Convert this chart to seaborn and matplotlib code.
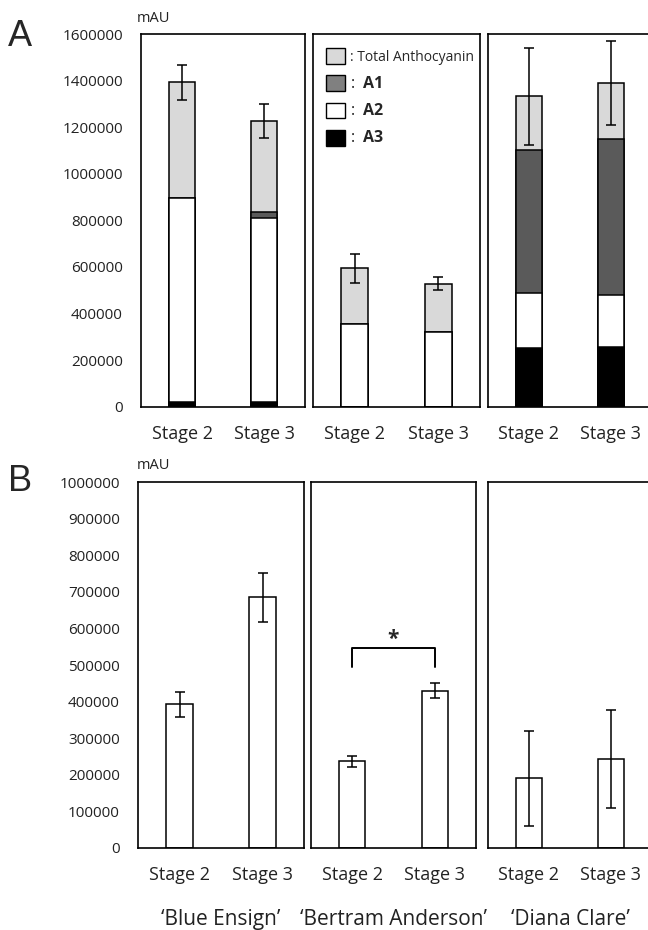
import matplotlib
matplotlib.use('Agg')
import matplotlib.pyplot as plt
import numpy as np
import seaborn as sns
from matplotlib.patches import Patch

sns.set_style('white')
plt.rcParams['font.family'] = ['Open Sans', 'DejaVu Sans']
plt.rcParams['mathtext.fontset'] = 'custom'
plt.rcParams['mathtext.bf'] = 'Open Sans:bold'
plt.rcParams['mathtext.rm'] = 'Open Sans'

stages = ['Stage 2', 'Stage 3']
cultivars = ['\u2018Blue Ensign\u2019', '\u2018Bertram Anderson\u2019', '\u2018Diana Clare\u2019']

# panel A (one row per cultivar, one column per stage)
total_anth = [[1392000, 1227000], [594000, 528000], [1333000, 1388000]]
total_err = [[76000, 73000], [61000, 28000], [209000, 180000]]
a1 = [[0, 22000], [0, 3000], [614000, 672000]]
a2 = [[876000, 791000], [353000, 319000], [233000, 222000]]
a3 = [[19000, 21000], [0, 0], [253000, 257000]]

# panel B
b_vals = [[392000, 685000], [236000, 430000], [190000, 243000]]
b_err = [[35000, 68000], [16000, 21000], [130000, 134000]]

col_total = '#d9d9d9'
col_a1 = '#5a5a5a'
col_a2 = 'white'
col_a3 = 'black'

fig = plt.figure(figsize=(6.48, 9.3), dpi=100)

W, H = 648.0, 930.0
a_left = [141, 313, 488]
a_width = [164, 167, 164]
b_left = [138, 311, 488]
b_width = [166, 165, 164]


def style_axes(ax, first, ymax, step):
    ax.set_xlim(-0.5, 1.5)
    ax.set_ylim(0, ymax)
    for s in ax.spines.values():
        s.set_visible(True)
        s.set_color('black')
        s.set_linewidth(1.2)
    ax.tick_params(axis='x', length=0, pad=13, labelsize=13, colors='#222222')
    ax.set_xlabel('')
    ax.set_ylabel('')
    ticks = np.arange(0, ymax + 1, step)
    ax.set_yticks(ticks)
    if first:
        ax.set_yticklabels([str(int(t)) for t in ticks])
        ax.tick_params(axis='y', length=0, pad=13, labelsize=11, colors='#222222')
    else:
        ax.set_yticklabels([])
        ax.tick_params(axis='y', length=0)


def bars(ax, heights, color):
    sns.barplot(x=stages, y=heights, color=color, saturation=1, width=0.32,
                edgecolor='black', linewidth=1.1, errorbar=None, ax=ax)


# ---- panel A: stacked bars ----
for i in range(3):
    ax = fig.add_axes([a_left[i] / W, 1 - 406.7 / H, a_width[i] / W, 372.7 / H])
    cum3 = np.array(a3[i])
    cum2 = cum3 + np.array(a2[i])
    cum1 = cum2 + np.array(a1[i])
    bars(ax, total_anth[i], col_total)
    bars(ax, cum1, col_a1)
    bars(ax, cum2, col_a2)
    bars(ax, cum3, col_a3)
    ax.errorbar([0, 1], total_anth[i], yerr=total_err[i], fmt='none',
                ecolor='black', elinewidth=1.1, capsize=3.5, capthick=1.1)
    style_axes(ax, i == 0, 1600000, 200000)
    if i == 1:
        handles = [Patch(facecolor=col_total, edgecolor='black'),
                   Patch(facecolor='#808080', edgecolor='black'),
                   Patch(facecolor=col_a2, edgecolor='black'),
                   Patch(facecolor=col_a3, edgecolor='black')]
        labels = [': Total Anthocyanin', ':  $\\mathbf{A1}$',
                  ':  $\\mathbf{A2}$', ':  $\\mathbf{A3}$']
        leg = ax.legend(handles, labels, loc='upper left', bbox_to_anchor=(0.08, 0.962),
                        frameon=False, fontsize=10, handlelength=1.35, handleheight=1.35,
                        handletextpad=0.35, labelspacing=0.78, borderpad=0, borderaxespad=0)
        for t in leg.get_texts()[1:]:
            t.set_fontsize(11.5)

# ---- panel B: simple bars ----
for i in range(3):
    ax = fig.add_axes([b_left[i] / W, 1 - 847.7 / H, b_width[i] / W, 365.4 / H])
    bars(ax, b_vals[i], 'white')
    ax.errorbar([0, 1], b_vals[i], yerr=b_err[i], fmt='none',
                ecolor='black', elinewidth=1.1, capsize=3.5, capthick=1.1)
    style_axes(ax, i == 0, 1000000, 100000)
    if i == 1:
        ax.plot([0, 0, 1, 1], [494000, 546000, 546000, 494000], color='black', lw=1.4)
        ax.text(0.5, 542000, '*', ha='center', va='bottom', fontsize=15, fontweight='bold')
    fig.text((b_left[i] + b_width[i] / 2) / W, 1 - 919 / H, cultivars[i],
             ha='center', va='center', fontsize=15, color='#222222')

fig.text(137 / W, 1 - 19 / H, 'mAU', fontsize=10.5, va='center', color='#222222')
fig.text(137 / W, 1 - 465 / H, 'mAU', fontsize=10.5, va='center', color='#222222')
fig.text(8 / W, 1 - 36 / H, 'A', fontsize=26, va='center', family='Liberation Sans')
fig.text(8 / W, 1 - 481 / H, 'B', fontsize=26, va='center', family='Liberation Sans')

fig.savefig('out.png', dpi=100)
